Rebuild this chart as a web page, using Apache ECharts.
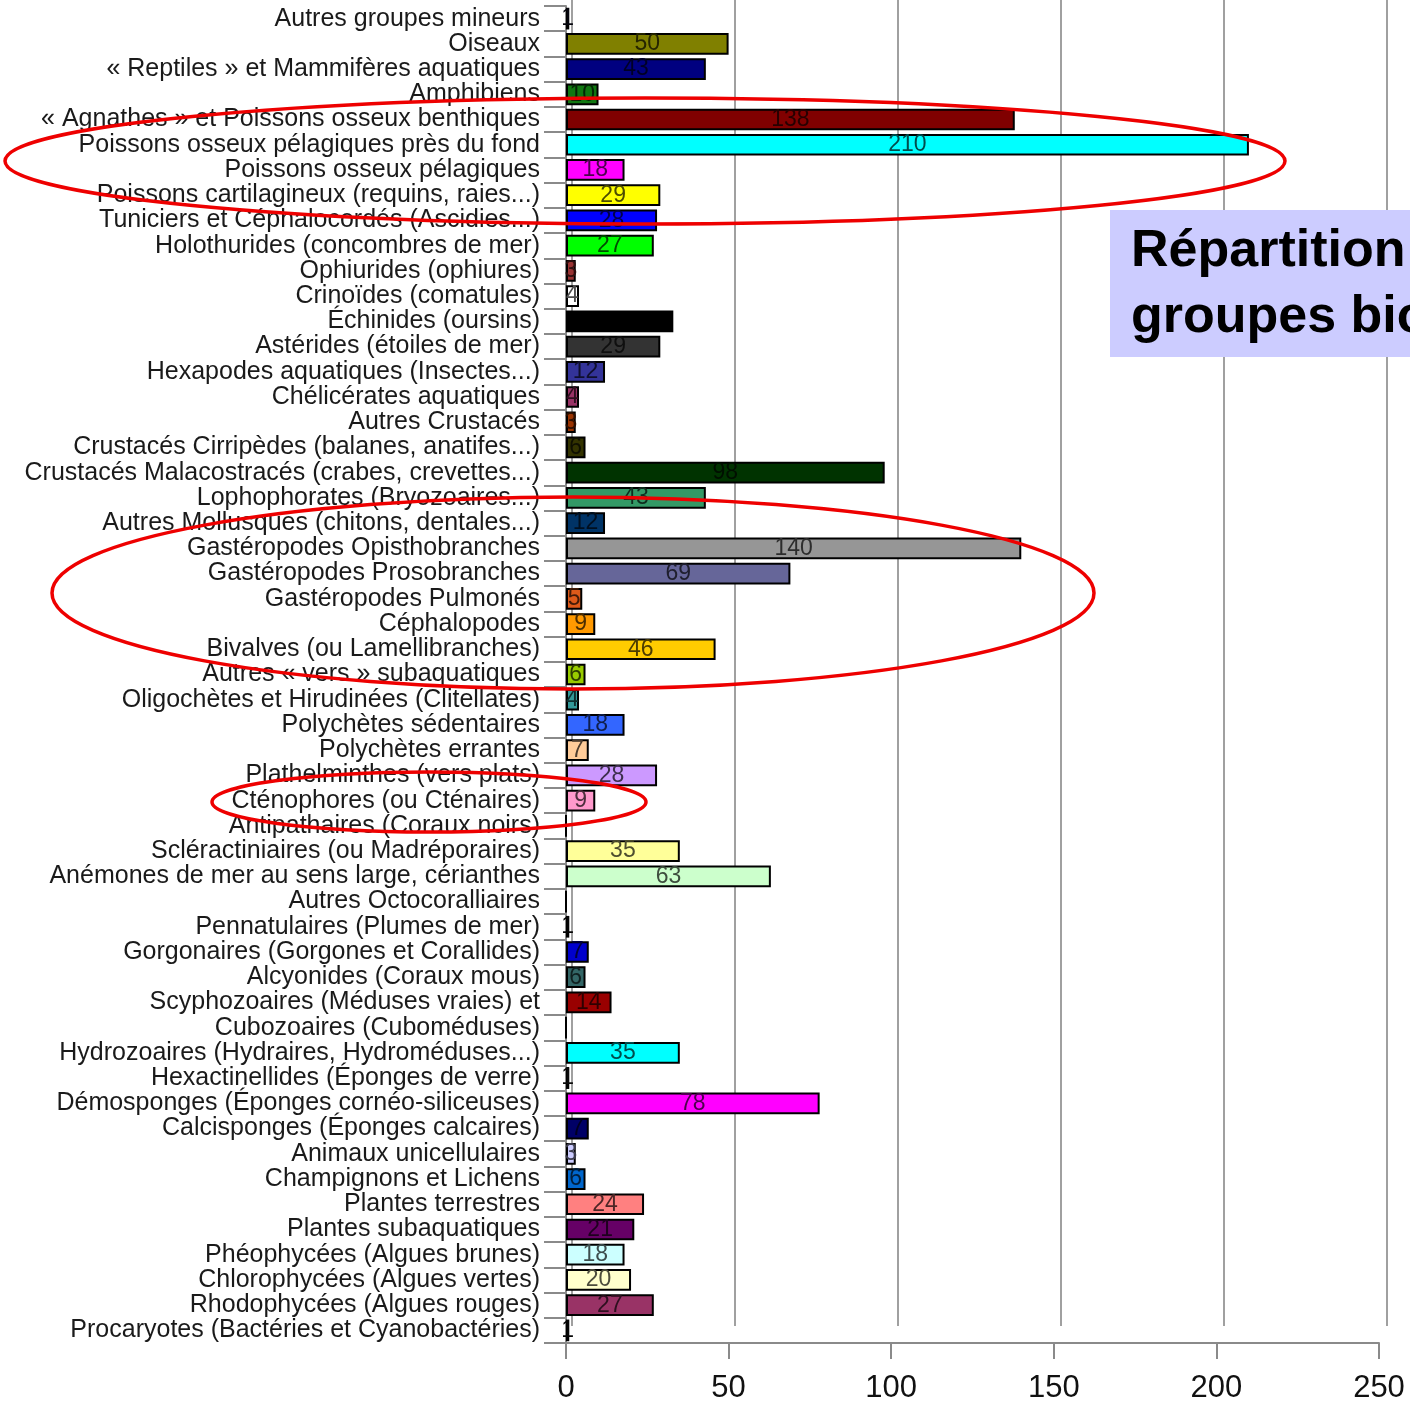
<!DOCTYPE html>
<html>
<head>
<meta charset="utf-8">
<script src="https://cdn.jsdelivr.net/npm/echarts@6/dist/echarts.min.js"></script>
<style>
html,body{margin:0;padding:0;background:#fff;}
#chart{width:1410px;height:1404px;}
</style>
</head>
<body>
<div id="chart"></div>
<script>
const categories = [
  "Autres groupes mineurs",
  "Oiseaux",
  "« Reptiles » et Mammifères aquatiques",
  "Amphibiens",
  "« Agnathes » et Poissons osseux benthiques",
  "Poissons osseux pélagiques près du fond",
  "Poissons osseux pélagiques",
  "Poissons cartilagineux (requins, raies...)",
  "Tuniciers et Céphalocordés (Ascidies...)",
  "Holothurides (concombres de mer)",
  "Ophiurides (ophiures)",
  "Crinoïdes (comatules)",
  "Échinides (oursins)",
  "Astérides (étoiles de mer)",
  "Hexapodes aquatiques (Insectes...)",
  "Chélicérates aquatiques",
  "Autres Crustacés",
  "Crustacés Cirripèdes (balanes, anatifes...)",
  "Crustacés Malacostracés (crabes, crevettes...)",
  "Lophophorates (Bryozoaires...)",
  "Autres Mollusques (chitons, dentales...)",
  "Gastéropodes Opisthobranches",
  "Gastéropodes Prosobranches",
  "Gastéropodes Pulmonés",
  "Céphalopodes",
  "Bivalves (ou Lamellibranches)",
  "Autres « vers » subaquatiques",
  "Oligochètes et Hirudinées (Clitellates)",
  "Polychètes sédentaires",
  "Polychètes errantes",
  "Plathelminthes (vers plats)",
  "Cténophores (ou Cténaires)",
  "Antipathaires (Coraux noirs)",
  "Scléractiniaires (ou Madréporaires)",
  "Anémones de mer au sens large, cérianthes",
  "Autres Octocoralliaires",
  "Pennatulaires (Plumes de mer)",
  "Gorgonaires (Gorgones et Corallides)",
  "Alcyonides (Coraux mous)",
  "Scyphozoaires (Méduses vraies) et",
  "Cubozoaires (Cuboméduses)",
  "Hydrozoaires (Hydraires, Hydroméduses...)",
  "Hexactinellides (Éponges de verre)",
  "Démosponges (Éponges cornéo-siliceuses)",
  "Calcisponges (Éponges calcaires)",
  "Animaux unicellulaires",
  "Champignons et Lichens",
  "Plantes terrestres",
  "Plantes subaquatiques",
  "Phéophycées (Algues brunes)",
  "Chlorophycées (Algues vertes)",
  "Rhodophycées (Algues rouges)",
  "Procaryotes (Bactéries et Cyanobactéries)"
];

const speciesCounts = [
  1, 50, 43, 10, 138, 210, 18, 29, 28, 27,
  3, 4, 33, 29, 12, 4, 3, 6, 98, 43,
  12, 140, 69, 5, 9, 46, 6, 4, 18, 7,
  28, 9, 0, 35, 63, 0, 1, 7, 6, 14,
  0, 35, 1, 78, 7, 3, 6, 24, 21, 18,
  20, 27, 1
];

const barColors = [
  "#10102a", "#808000", "#000080", "#117711", "#800000", "#00ffff", "#ff00ff", "#ffff00", "#0000ff", "#00ff00",
  "#993333", "#ffffff", "#000000", "#333333", "#333399", "#993366", "#993300", "#333300", "#003300", "#339966",
  "#003366", "#969696", "#666699", "#dd5a1a", "#ff9900", "#ffcc00", "#99cc00", "#339999", "#3366ff", "#ffcc99",
  "#cc99ff", "#ff99cc", "#000000", "#ffff99", "#ccffcc", "#000000", "#111111", "#0000cc", "#336666", "#990000",
  "#000000", "#00ffff", "#222222", "#ff00ff", "#000066", "#ccccff", "#0066cc", "#ff8080", "#660066", "#ccffff",
  "#ffffcc", "#993366", "#111111"
];

const xTicks = [0, 50, 100, 150, 200, 250];

function darken(hex, f) {
  const n = parseInt(hex.slice(1), 16);
  const r = Math.round(((n >> 16) & 255) * f);
  const g = Math.round(((n >> 8) & 255) * f);
  const b = Math.round((n & 255) * f);
  return 'rgb(' + r + ',' + g + ',' + b + ')';
}

const barData = speciesCounts.map((v, i) => ({
  value: v,
  itemStyle: { color: barColors[i] },
  label: { color: darken(barColors[i], 0.3) }
}));

const chart = echarts.init(document.getElementById('chart'), null, { renderer: 'canvas' });

const option = {
  backgroundColor: '#ffffff',
  animation: false,
  grid: [
    { left: 566, right: 31, top: 6, bottom: 60, containLabel: false },
    { left: 572, right: 23, top: 0, bottom: 78, containLabel: false }
  ],
  xAxis: [
    {
      gridIndex: 0,
      type: 'value',
      min: xTicks[0],
      max: xTicks[xTicks.length - 1],
      interval: 50,
      axisLine: { show: true, lineStyle: { color: '#8a8a8a', width: 2 } },
      axisTick: { show: true, length: 16, lineStyle: { color: '#8a8a8a', width: 2 } },
      axisLabel: { fontSize: 31, color: '#111', margin: 30, fontFamily: 'Liberation Sans, Arial, sans-serif' },
      splitLine: { show: false }
    },
    {
      gridIndex: 1,
      type: 'value',
      min: xTicks[0],
      max: xTicks[xTicks.length - 1],
      interval: 50,
      axisLine: { show: false },
      axisTick: { show: false },
      axisLabel: { show: false },
      splitLine: { show: true, lineStyle: { color: '#a0a0a0', width: 2 } }
    }
  ],
  yAxis: [
    {
      gridIndex: 0,
      type: 'category',
      data: categories,
      inverse: true,
      axisLine: { show: true, lineStyle: { color: '#8a8a8a', width: 2 } },
      axisTick: { show: true, length: 22, lineStyle: { color: '#8a8a8a', width: 2 } },
      axisLabel: {
        fontSize: 25,
        color: '#1a1a1a',
        margin: 26,
        interval: 0,
        fontFamily: 'Liberation Sans, Arial, sans-serif'
      }
    },
    {
      gridIndex: 1,
      type: 'value',
      min: 0,
      max: 1,
      show: false
    }
  ],
  series: [
    {
      type: 'bar',
      xAxisIndex: 0,
      yAxisIndex: 0,
      data: barData,
      barWidth: '86%',
      itemStyle: { borderColor: '#000', borderWidth: 2 },
      label: {
        show: true,
        position: 'inside',
        fontSize: 23,
        fontFamily: 'Liberation Sans, Arial, sans-serif',
        formatter: p => (p.value > 0 ? String(p.value) : '')
      },
      z: 3
    }
  ],
  graphic: [
    {
      type: 'rect',
      shape: { x: 1110, y: 210, width: 320, height: 147 },
      style: { fill: '#ccccff' },
      z: 10
    },
    {
      type: 'text',
      x: 1131,
      y: 219,
      style: {
        text: 'Répartition des espèces par\ngroupes biologiques',
        font: 'bold 52px "Liberation Sans", Arial, sans-serif',
        fill: '#000',
        lineHeight: 66,
        textVerticalAlign: 'top'
      },
      z: 11
    },
    {
      type: 'ellipse',
      shape: { cx: 645, cy: 161, rx: 640, ry: 63 },
      style: { fill: 'none', stroke: '#ee0000', lineWidth: 3.5 },
      z: 20
    },
    {
      type: 'ellipse',
      shape: { cx: 573, cy: 593, rx: 521, ry: 96 },
      style: { fill: 'none', stroke: '#ee0000', lineWidth: 3.5 },
      z: 20
    },
    {
      type: 'ellipse',
      shape: { cx: 429, cy: 802, rx: 217, ry: 30 },
      style: { fill: 'none', stroke: '#ee0000', lineWidth: 3.5 },
      z: 20
    }
  ]
};

chart.setOption(option);
</script>
</body>
</html>
